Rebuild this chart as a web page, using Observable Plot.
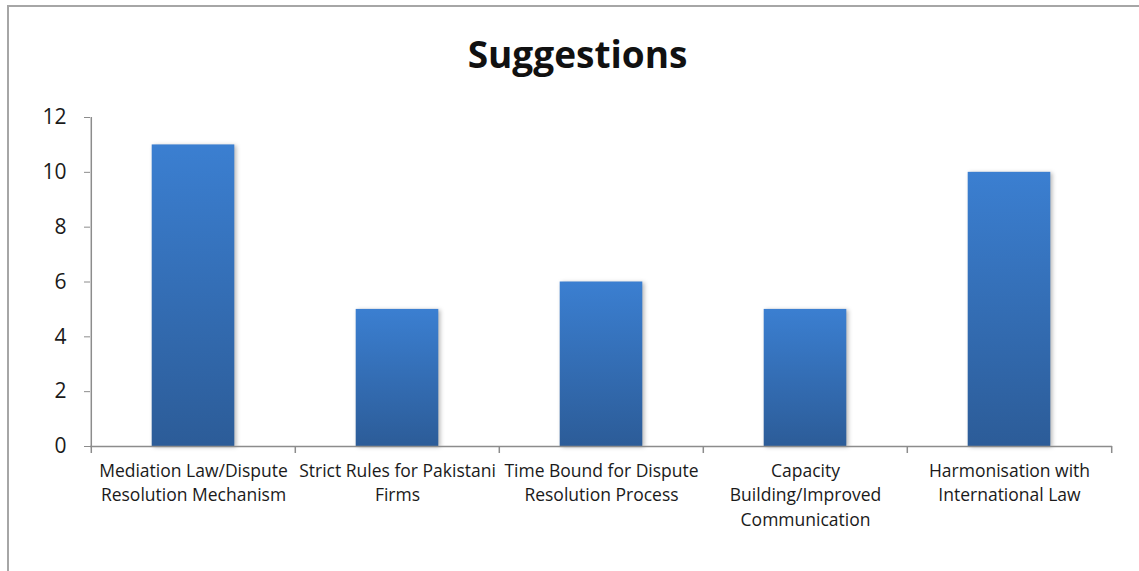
<!DOCTYPE html>
<html><head><meta charset="utf-8">
<script src="https://cdn.jsdelivr.net/npm/d3@7"></script>
<script src="https://cdn.jsdelivr.net/npm/@observablehq/plot@0.6"></script>
<style>
html,body{margin:0;padding:0;background:#fff;overflow:hidden;width:1139px;height:571px;}
#frame{position:absolute;left:7px;top:5px;width:1200px;height:700px;border-left:2px solid #a6a6a6;border-top:2px solid #a6a6a6;box-sizing:border-box;}
#title{position:absolute;left:8px;top:0;width:1139px;height:90px;text-align:center;font-family:"Open Sans",Lato,sans-serif;font-weight:bold;font-size:37px;line-height:108px;color:#111;}
#chart{position:absolute;left:0;top:90px;}
#chart svg{font-family:"Open Sans",Lato,sans-serif;}
</style></head>
<body>
<div id="frame"></div>
<div id="title">Suggestions</div>
<div id="chart"></div>
<script>
const categories = [
  "Mediation Law/Dispute\nResolution Mechanism",
  "Strict Rules for Pakistani\nFirms",
  "Time Bound for Dispute\nResolution Process",
  "Capacity\nBuilding/Improved\nCommunication",
  "Harmonisation with\nInternational Law"
];
const values = [11, 5, 6, 5, 10];
const yTicks = [0, 2, 4, 6, 8, 10, 12];

const data = categories.map((c, i) => ({category: c, value: values[i]}));
const W = 1139, H = 481, mL = 90, mR = 27, mT = 27, mB = 125;
const bw = (W - mL - mR) / categories.length;
const inset = (bw - 83) / 2;

const plot = Plot.plot({
  width: W, height: H,
  marginLeft: mL, marginRight: mR, marginTop: mT, marginBottom: mB,
  style: {fontSize: "16px", color: "#222", background: "transparent"},
  x: {domain: categories, padding: 0, axis: null, label: null},
  y: {domain: [0, 12], ticks: yTicks, axis: null, label: null},
  marks: [
    Plot.barY(data, {x: "category", y: "value", fill: "url(#barGrad)", insetLeft: inset, insetRight: inset, className: "bars"}),
    Plot.ruleY([0], {stroke: "#8c8c8c", strokeWidth: 1.5}),
    Plot.ruleX([categories[0]], {dx: -bw / 2, y1: 0, y2: 12, stroke: "#8c8c8c", strokeWidth: 1.5}),
    Plot.axisY({ticks: yTicks, tickSize: 6, tickPadding: 18, fontSize: 21, stroke: "#8c8c8c", fill: "#1a1a1a", anchor: "left", label: null}),
    Plot.ruleX(categories, {x: d => d, dx: -bw / 2, y1: 0, y2: 0, insetTop: 7, insetBottom: 0, stroke: "#8c8c8c", strokeWidth: 1.5}),
    Plot.ruleX([categories[categories.length - 1]], {x: d => d, dx: bw / 2, y1: 0, y2: 0, insetTop: 7, insetBottom: 0, stroke: "#8c8c8c", strokeWidth: 1.5}),
    Plot.axisX({tickSize: 0, tickPadding: 13, fontSize: 17.5, lineHeight: 1.4, fill: "#1a1a1a", anchor: "bottom", label: null})
  ]
});
document.getElementById("chart").appendChild(plot);

const svg = d3.select(plot);
const defs = svg.insert("defs", ":first-child");
const g = defs.append("linearGradient").attr("id", "barGrad").attr("x1", 0).attr("y1", 0).attr("x2", 0).attr("y2", 1);
g.append("stop").attr("offset", "0%").attr("stop-color", "#3b7fd1");
g.append("stop").attr("offset", "100%").attr("stop-color", "#2c5c98");
svg.selectAll(".bars rect").style("filter", "drop-shadow(2px 1px 2px rgba(0,0,0,0.28))");
</script>
</body></html>
